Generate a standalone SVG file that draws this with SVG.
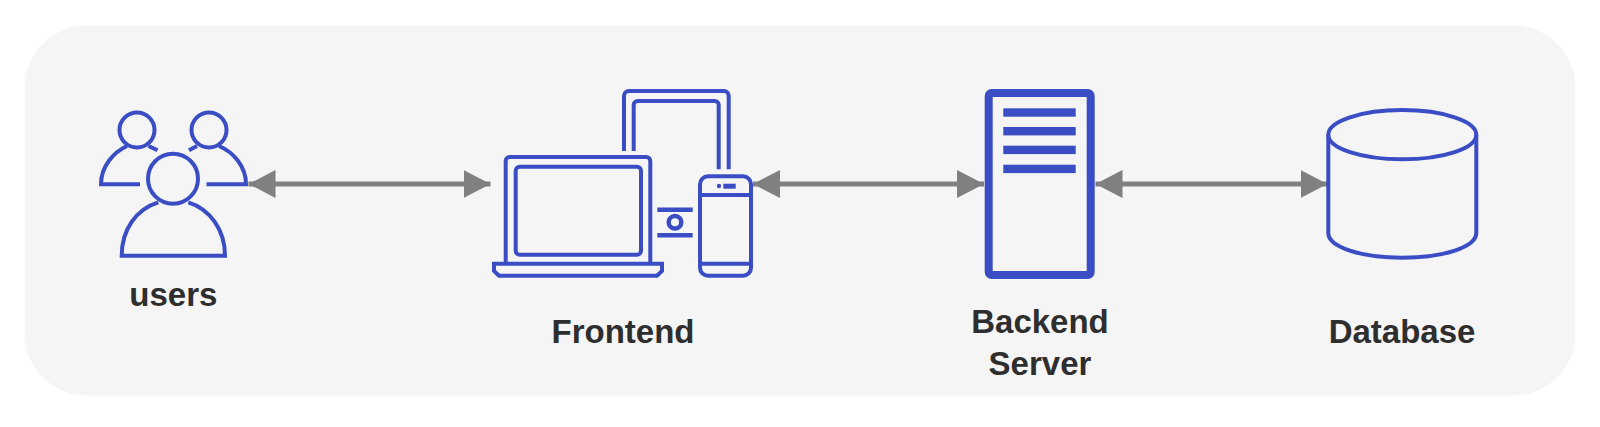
<svg xmlns="http://www.w3.org/2000/svg" width="1600" height="427" viewBox="0 0 1600 427">
<style>
.i{fill:none;stroke:#3a4dc4;stroke-width:4}
.b{fill:#3a4dc4}
.t{font-family:"Liberation Sans",Arial,sans-serif;font-weight:700;font-size:33px;fill:#2e2e2e;text-anchor:middle}
.c{stroke:#808080;stroke-width:5;fill:none;marker-start:url(#h);marker-end:url(#h)}
</style>
<defs><marker id="h" markerUnits="userSpaceOnUse" markerWidth="27" markerHeight="28" refX="27" refY="14" orient="auto-start-reverse"><path d="M0 0L27 14L0 28Z" fill="#808080"/></marker></defs>
<rect width="1600" height="427" fill="#fff"/>
<rect x="24.5" y="25.5" width="1551" height="370" rx="62" fill="#f5f5f5"/>
<g id="connectors">
<path class="c" d="M248.5 184H490.5"/>
<path class="c" d="M753 184H984"/>
<path class="c" d="M1095.5 184H1327.5"/>
</g>
<g id="users">
<circle class="i" cx="137" cy="130" r="17.5"/>
<circle class="i" cx="209" cy="130" r="17.5"/>
<circle class="i" cx="173" cy="178.7" r="25"/>
<path class="i" d="M140 184.3H101C101 166 114 152 127 146M148.5 146L157.5 150.3"/>
<path class="i" d="M206.5 184.3H246C246 166 233 152 219 146M197 146L189 150.3"/>
<path class="i" d="M158.3 202.3C136 209 121.7 230 121.7 255.7H225C225 230 210 209 188.3 202.3"/>
<text class="t" x="173.3" y="306">users</text>
</g>
<g id="frontend">
<rect class="i" x="515.7" y="166.7" width="125.3" height="88" rx="4"/>
<path class="i" d="M505.7 263.7V161a4 4 0 0 1 4-4H646.3a4 4 0 0 1 4 4V263.7"/>
<path class="i" d="M494 263.7H662V271L657 275.7H499L494 271Z"/>
<path class="i" d="M624 151V96a5 5 0 0 1 5-5H723.7a5 5 0 0 1 5 5V169.3"/>
<path class="i" d="M633.7 151V105a4 4 0 0 1 4-4H714.7a4 4 0 0 1 4 4V169.3"/>
<rect class="i" x="700" y="176.3" width="51" height="99.4" rx="8"/>
<path class="i" d="M700 195H751M700 263.7H751"/>
<circle class="b" cx="719" cy="186" r="2.2"/>
<rect class="b" x="723.3" y="183.7" width="12.4" height="5"/>
<path class="i" d="M657.3 209.7H692.7M657.3 235.3H692.7" style="stroke-width:4.5"/>
<circle class="i" cx="675" cy="222.3" r="6.3" style="stroke-width:4.5"/>
<text class="t" x="623" y="343">Frontend</text>
</g>
<g id="backend">
<rect class="i" x="988.7" y="93" width="102" height="182" rx="3" style="stroke-width:8"/>
<rect class="b" x="1003.3" y="108.3" width="72.4" height="8.4"/>
<rect class="b" x="1003.3" y="127" width="72.4" height="8.4"/>
<rect class="b" x="1003.3" y="145.7" width="72.4" height="8.4"/>
<rect class="b" x="1003.3" y="164.7" width="72.4" height="8.4"/>
<text class="t" x="1040" y="333">Backend</text>
<text class="t" x="1040" y="375">Server</text>
</g>
<g id="database">
<ellipse class="i" cx="1402.3" cy="134.7" rx="74" ry="24.6"/>
<path class="i" d="M1328.3 134.7V233C1328.3 247 1361 257.7 1402.3 257.7S1476.3 247 1476.3 233V134.7"/>
<text class="t" x="1402" y="343">Database</text>
</g>
</svg>
